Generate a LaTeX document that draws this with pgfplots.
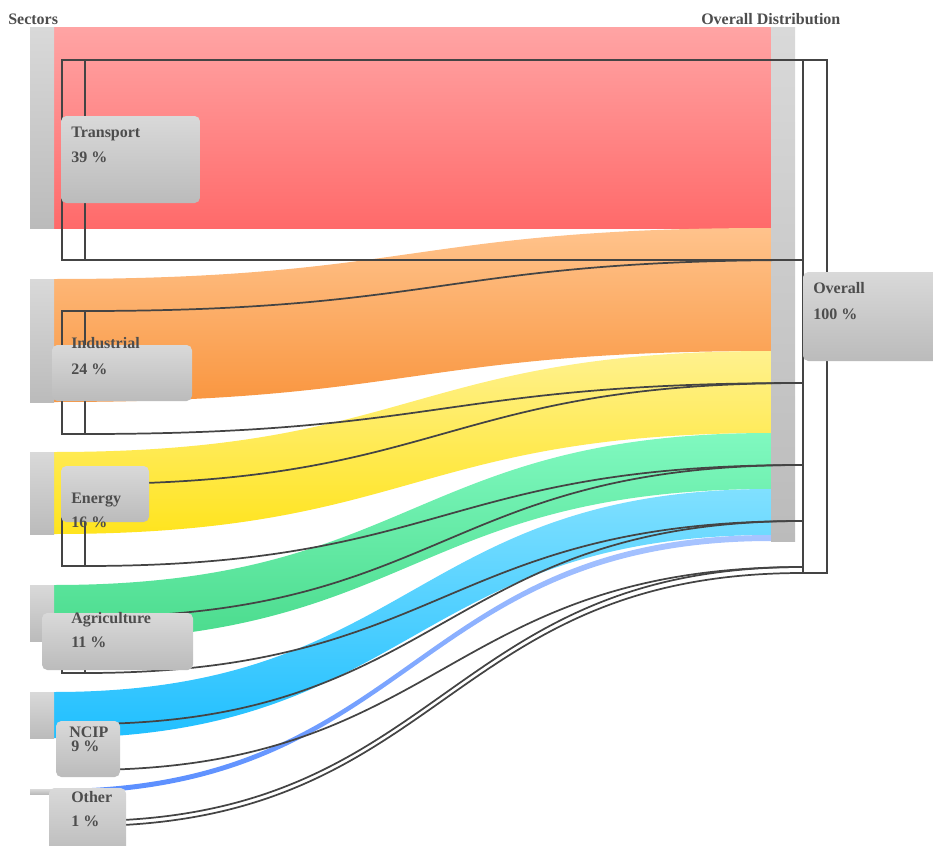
\documentclass[border=0pt]{standalone}
\usepackage{pgfplots}
\pgfplotsset{compat=1.18}
\usepackage{fontspec}
\setmainfont{Liberation Serif}
\definecolor{txt}{HTML}{4D4D4D}
\definecolor{olc}{HTML}{444444}
\definecolor{gtop}{HTML}{D9D9D9}
\definecolor{gbot}{HTML}{BBBBBB}
\definecolor{trT}{HTML}{FFA4A4}\definecolor{trB}{HTML}{FF6A6A}
\definecolor{inT}{HTML}{FFC38C}\definecolor{inB}{HTML}{F99640}
\definecolor{enT}{HTML}{FFF18E}\definecolor{enB}{HTML}{FFE41E}
\definecolor{agT}{HTML}{80F9C0}\definecolor{agB}{HTML}{4ADB8C}
\definecolor{ncT}{HTML}{80E0FF}\definecolor{ncB}{HTML}{20BFFF}
\definecolor{otT}{HTML}{A8C4FF}\definecolor{otB}{HTML}{5A8EFF}
% band: left top, left bottom, right top, right bottom, colours
\newcommand{\band}[6]{\shade[top color=#5,bottom color=#6] (54,#1) .. controls (412.5,#1) and (412.5,#3) .. (771,#3) -- (771,#4) .. controls (412.5,#4) and (412.5,#2) .. (54,#2) -- cycle;}
\newcommand{\outl}[4]{\draw[olc,line width=1.3pt] (85,#1) .. controls (444,#1) and (444,#3) .. (803,#3) -- (803,#4) .. controls (444,#4) and (444,#2) .. (85,#2) -- cycle;}
\newcommand{\gbar}[3]{\shade[top color=gtop,bottom color=gbot] (#1,#2) rectangle ({#1+24},#3);}
\newcommand{\lbl}[9]{\shade[rounded corners=4pt,top color=gtop,bottom color=gbot] (#1,#2) rectangle (#3,#4);
 \node[anchor=base west,inner sep=0pt,txt,font=\fontsize{12}{14}\selectfont\bfseries] at (#5,#7) {#6};
 \node[anchor=base west,inner sep=0pt,txt,font=\fontsize{12}{14}\selectfont\bfseries] at (71,#9) {#8};}
\begin{document}
\begin{tikzpicture}
\begin{axis}[
  width=699.75pt, height=634.5pt, scale only axis,
  xmin=0, xmax=933, ymin=0, ymax=846, y dir=reverse,
  hide axis, clip=false]
\addplot[draw=none] coordinates {(0,0) (933,846)};
\begin{scope}
\clip (0,0) rectangle (933,846);
% flows (pixel positions from shares 39, 24, 16, 11, 9, 1 %)
\band{27}{228}{27}{228}{trT}{trB}
\band{279}{402}{228}{351}{inT}{inB}
\band{452}{534}{351}{433}{enT}{enB}
\band{585}{641}{433}{489}{agT}{agB}
\band{692}{738}{489}{535}{ncT}{ncB}
\band{789}{794}{535}{541}{otT}{otB}
% node bars
\gbar{30}{27}{228}
\gbar{30}{279}{402}
\gbar{30}{452}{534}
\gbar{30}{585}{641}
\gbar{30}{692}{738}
\gbar{30}{789}{794}
\gbar{771}{27}{541}
% outlines
\outl{60}{260}{60}{260}
\outl{311}{434}{260}{383}
\outl{484}{566}{383}{465}
\outl{617}{673}{465}{521}
\outl{724}{770}{521}{567}
\outl{821}{826}{567}{573}
\draw[olc,line width=1.3pt] (62,60) rectangle (85,260);
\draw[olc,line width=1.3pt] (62,311) rectangle (85,434);
\draw[olc,line width=1.3pt] (62,484) rectangle (85,566);
\draw[olc,line width=1.3pt] (62,617) rectangle (85,673);
\draw[olc,line width=1.3pt] (62,724) rectangle (85,770);
\draw[olc,line width=1.3pt] (62,821) rectangle (85,826);
\draw[olc,line width=1.3pt] (803,60) rectangle (827,573);
% labels
\lbl{61}{116}{200}{203}{71}{Transport}{137}{39 \%}{162}
\lbl{52}{345}{192}{401}{71}{Industrial}{348}{24 \%}{374}
\lbl{61}{466}{149}{522}{71}{Energy}{503}{16 \%}{527}
\lbl{42}{613}{193}{670}{71}{Agriculture}{623}{11 \%}{647}
\lbl{56}{721}{120}{777}{69}{NCIP}{737}{9 \%}{751}
\lbl{49}{788}{126}{856}{71}{Other}{802}{1 \%}{826}
\shade[rounded corners=4pt,top color=gtop,bottom color=gbot] (803,272) rectangle (945,361);
\node[anchor=base west,inner sep=0pt,txt,font=\fontsize{12}{14}\selectfont\bfseries] at (813,293) {Overall};
\node[anchor=base west,inner sep=0pt,txt,font=\fontsize{12}{14}\selectfont\bfseries] at (813,319) {100 \%};
% headers
\node[anchor=base west,inner sep=0pt,txt,font=\fontsize{12}{14}\selectfont\bfseries] at (8,24) {Sectors};
\node[anchor=base west,inner sep=0pt,txt,font=\fontsize{12}{14}\selectfont\bfseries] at (701,24) {Overall Distribution};
\end{scope}
\end{axis}
\end{tikzpicture}
\end{document}
